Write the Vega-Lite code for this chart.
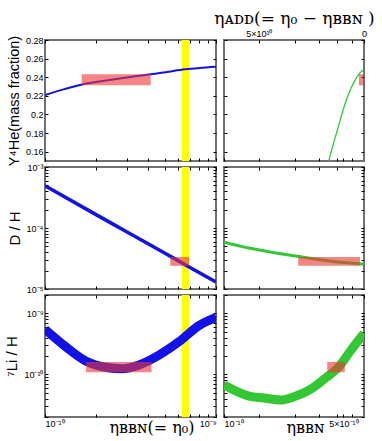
{
  "$schema": "https://vega.github.io/schema/vega-lite/v6.json",
  "padding": {"left": 3, "top": 8, "right": 0, "bottom": 0},
  "background": "white",
  "columns": 2,
  "spacing": {"row": 6, "column": 8},
  "bounds": "flush",
  "datasets": {
    "band": [{"lo": 6.3e-10, "hi": 6.95e-10}],
    "boxes": [
      {"panel": "he_l", "x0": 1.64e-10, "x1": 4.15e-10, "y0": 0.2313, "y1": 0.2431},
      {"panel": "he_r", "x0": 6.17e-10, "x1": 6.55e-10, "y0": 0.2313, "y1": 0.2431},
      {"panel": "dh_l", "x0": 5.4e-10, "x1": 6.95e-10, "y0": 2.4e-5, "y1": 3.35e-5},
      {"panel": "dh_r", "x0": 2.72e-10, "x1": 6.25e-10, "y0": 2.4e-5, "y1": 3.35e-5},
      {"panel": "li_l", "x0": 1.74e-10, "x1": 4.2e-10, "y0": 1.08e-10, "y1": 1.6e-10},
      {"panel": "li_r", "x0": 4.02e-10, "x1": 5.09e-10, "y0": 1.08e-10, "y1": 1.6e-10}
    ],
    "curves": [
      {"panel": "he_l", "eta": 1e-10, "v": 0.2209},
      {"panel": "he_l", "eta": 1.3e-10, "v": 0.2272},
      {"panel": "he_l", "eta": 1.65e-10, "v": 0.2322},
      {"panel": "he_l", "eta": 2.5e-10, "v": 0.2375},
      {"panel": "he_l", "eta": 3.3e-10, "v": 0.2407},
      {"panel": "he_l", "eta": 4.17e-10, "v": 0.2431},
      {"panel": "he_l", "eta": 5.3e-10, "v": 0.246},
      {"panel": "he_l", "eta": 6.59e-10, "v": 0.2485},
      {"panel": "he_l", "eta": 8e-10, "v": 0.25},
      {"panel": "he_l", "eta": 1e-9, "v": 0.2513},
      {"panel": "he_r", "eta": 3.98e-10, "v": 0.139},
      {"panel": "he_r", "eta": 4.12e-10, "v": 0.151},
      {"panel": "he_r", "eta": 4.59e-10, "v": 0.182},
      {"panel": "he_r", "eta": 5.18e-10, "v": 0.2144},
      {"panel": "he_r", "eta": 6.51e-10, "v": 0.2477},
      {"panel": "he_r", "eta": 6.6e-10, "v": 0.2485},
      {"panel": "dh_l", "eta": 1e-10, "v": 4.91e-4},
      {"panel": "dh_l", "eta": 2e-10, "v": 1.64e-4},
      {"panel": "dh_l", "eta": 3e-10, "v": 8.7e-5},
      {"panel": "dh_l", "eta": 5e-10, "v": 3.9e-5},
      {"panel": "dh_l", "eta": 7e-10, "v": 2.28e-5},
      {"panel": "dh_l", "eta": 1e-9, "v": 1.3e-5},
      {"panel": "dh_r", "eta": 1e-10, "v": 5.87e-5},
      {"panel": "dh_r", "eta": 1.4e-10, "v": 4.69e-5},
      {"panel": "dh_r", "eta": 2.75e-10, "v": 3.4e-5},
      {"panel": "dh_r", "eta": 4.12e-10, "v": 2.88e-5},
      {"panel": "dh_r", "eta": 6.6e-10, "v": 2.55e-5},
      {"panel": "li_l", "eta": 1e-10, "v": 5.48e-10},
      {"panel": "li_l", "eta": 1.32e-10, "v": 2.85e-10},
      {"panel": "li_l", "eta": 1.73e-10, "v": 1.66e-10},
      {"panel": "li_l", "eta": 2.26e-10, "v": 1.31e-10},
      {"panel": "li_l", "eta": 2.83e-10, "v": 1.24e-10},
      {"panel": "li_l", "eta": 3.55e-10, "v": 1.43e-10},
      {"panel": "li_l", "eta": 4.64e-10, "v": 2.07e-10},
      {"panel": "li_l", "eta": 6.08e-10, "v": 3.43e-10},
      {"panel": "li_l", "eta": 7.95e-10, "v": 6.3e-10},
      {"panel": "li_l", "eta": 1e-9, "v": 8.6e-10},
      {"panel": "li_r", "eta": 1e-10, "v": 6.7e-11},
      {"panel": "li_r", "eta": 1.4e-10, "v": 4.4e-11},
      {"panel": "li_r", "eta": 1.71e-10, "v": 4.1e-11},
      {"panel": "li_r", "eta": 2.15e-10, "v": 3.8e-11},
      {"panel": "li_r", "eta": 2.57e-10, "v": 4.3e-11},
      {"panel": "li_r", "eta": 3.15e-10, "v": 5.5e-11},
      {"panel": "li_r", "eta": 3.85e-10, "v": 8.3e-11},
      {"panel": "li_r", "eta": 4.71e-10, "v": 1.34e-10},
      {"panel": "li_r", "eta": 5.54e-10, "v": 2.5e-10},
      {"panel": "li_r", "eta": 6.6e-10, "v": 4.7e-10}
    ]
  },
  "concat": [
    {
      "width": 171, "height": 121,
      "layer": [
        {"data": {"name": "band"}, "mark": {"type": "rect", "color": "#ffff00"},
         "encoding": {"x": {"field": "lo", "type": "quantitative", "scale": {"type": "log", "domain": [1e-10, 1e-9], "nice": false}, "axis": null}, "x2": {"field": "hi"}}},
        {"data": {"name": "curves"}, "transform": [{"filter": "datum.panel == 'he_l'"}],
         "mark": {"type": "line", "color": "#1212e8", "strokeWidth": 2, "interpolate": "monotone", "clip": true},
         "encoding": {
           "x": {"field": "eta", "type": "quantitative", "scale": {"type": "log", "domain": [1e-10, 1e-9], "nice": false},
                 "axis": {"orient": "bottom", "values": [1e-10, 2e-10, 3e-10, 4e-10, 5e-10, 6e-10, 7e-10, 8e-10, 9e-10, 1e-9], "labels": false, "title": null}},
           "y": {"field": "v", "type": "quantitative", "scale": {"domain": [0.15, 0.28], "nice": false, "zero": false},
                 "axis": {"orient": "left", "values": [0.16, 0.18, 0.2, 0.22, 0.24, 0.26, 0.28], "format": "~g", "title": "Y⁴He(mass fraction)", "titleFontSize": 14.5, "titleFont": "Liberation Sans", "labelOverlap": false}}
         }},
        {"data": {"name": "boxes"}, "transform": [{"filter": "datum.panel == 'he_l'"}],
         "mark": {"type": "rect", "color": "#ee3333", "opacity": 0.6},
         "encoding": {
           "x": {"field": "x0", "type": "quantitative", "scale": {"type": "log", "domain": [1e-10, 1e-9], "nice": false},
                 "axis": {"orient": "top", "values": [1e-10, 2e-10, 3e-10, 4e-10, 5e-10, 6e-10, 7e-10, 8e-10, 9e-10, 1e-9], "labels": false, "title": null}},
           "x2": {"field": "x1"},
           "y": {"field": "y0", "type": "quantitative", "scale": {"domain": [0.15, 0.28], "nice": false, "zero": false},
                 "axis": {"orient": "right", "values": [0.16, 0.18, 0.2, 0.22, 0.24, 0.26, 0.28], "labels": false, "title": null}},
           "y2": {"field": "y1"}
         }}
      ],
      "resolve": {"axis": {"x": "independent", "y": "independent"}}
    },
    {
      "width": 140, "height": 121,
      "layer": [
        {"data": {"name": "curves"}, "transform": [{"filter": "datum.panel == 'he_r'"}],
         "mark": {"type": "line", "color": "#33c833", "strokeWidth": 1.3, "interpolate": "monotone", "clip": true},
         "encoding": {
           "x": {"field": "eta", "type": "quantitative", "scale": {"type": "log", "domain": [1e-10, 6.6e-10], "nice": false},
                 "axis": {"orient": "bottom", "values": [1e-10, 1.6e-10, 2.6e-10, 3.6e-10, 4.6e-10, 5e-10, 5.6e-10], "labels": false, "title": null}},
           "y": {"field": "v", "type": "quantitative", "scale": {"domain": [0.15, 0.28], "nice": false, "zero": false},
                 "axis": {"orient": "left", "values": [0.16, 0.18, 0.2, 0.22, 0.24, 0.26, 0.28], "labels": false, "title": null}}
         }},
        {"data": {"name": "boxes"}, "transform": [{"filter": "datum.panel == 'he_r'"}],
         "mark": {"type": "rect", "color": "#ee3333", "opacity": 0.6},
         "encoding": {
           "x": {"field": "x0", "type": "quantitative", "scale": {"type": "log", "domain": [1e-10, 6.6e-10], "nice": false},
                 "axis": {"orient": "top", "values": [1.6e-10, 2.6e-10, 3.6e-10, 4.6e-10, 5.6e-10, 6.6e-10], "labelFlush": false, "labelOverlap": false,
                          "labelExpr": "datum.value == 1.6e-10 ? '5×10¹⁰' : datum.value == 6.6e-10 ? '0' : ''",
                          "title": "ηᴀᴅᴅ(= η₀ − ηʙʙɴ )", "titleFontSize": 17, "titleFont": "DejaVu Serif", "titlePadding": 2}},
           "x2": {"field": "x1"},
           "y": {"field": "y0", "type": "quantitative", "scale": {"domain": [0.15, 0.28], "nice": false, "zero": false},
                 "axis": {"orient": "right", "values": [0.16, 0.18, 0.2, 0.22, 0.24, 0.26, 0.28], "labels": false, "title": null}},
           "y2": {"field": "y1"}
         }}
      ],
      "resolve": {"axis": {"x": "independent", "y": "independent"}}
    },
    {
      "width": 171, "height": 122,
      "layer": [
        {"data": {"name": "band"}, "mark": {"type": "rect", "color": "#ffff00"},
         "encoding": {"x": {"field": "lo", "type": "quantitative", "scale": {"type": "log", "domain": [1e-10, 1e-9], "nice": false}, "axis": null}, "x2": {"field": "hi"}}},
        {"data": {"name": "curves"}, "transform": [{"filter": "datum.panel == 'dh_l'"}],
         "mark": {"type": "line", "color": "#1212e8", "strokeWidth": 3.5, "interpolate": "monotone", "clip": true},
         "encoding": {
           "x": {"field": "eta", "type": "quantitative", "scale": {"type": "log", "domain": [1e-10, 1e-9], "nice": false},
                 "axis": {"orient": "bottom", "values": [1e-10, 2e-10, 3e-10, 4e-10, 5e-10, 6e-10, 7e-10, 8e-10, 9e-10, 1e-9], "labels": false, "title": null}},
           "y": {"field": "v", "type": "quantitative", "scale": {"type": "log", "domain": [1e-5, 1e-3], "nice": false},
                 "axis": {"orient": "left", "values": [1e-5, 2e-5, 3e-5, 4e-5, 5e-5, 6e-5, 7e-5, 8e-5, 9e-5, 1e-4, 2e-4, 3e-4, 4e-4, 5e-4, 6e-4, 7e-4, 8e-4, 9e-4, 1e-3],
                          "labelExpr": "datum.value == 1e-3 ? '10⁻³' : datum.value == 1e-4 ? '10⁻⁴' : datum.value == 1e-5 ? '10⁻⁵' : ''", "labelOverlap": false,
                          "title": "D / H", "titleFontSize": 15, "titleFont": "Liberation Sans"}}
         }},
        {"data": {"name": "boxes"}, "transform": [{"filter": "datum.panel == 'dh_l'"}],
         "mark": {"type": "rect", "color": "#ee3333", "opacity": 0.6},
         "encoding": {
           "x": {"field": "x0", "type": "quantitative", "scale": {"type": "log", "domain": [1e-10, 1e-9], "nice": false},
                 "axis": {"orient": "top", "values": [1e-10, 2e-10, 3e-10, 4e-10, 5e-10, 6e-10, 7e-10, 8e-10, 9e-10, 1e-9], "labels": false, "title": null}},
           "x2": {"field": "x1"},
           "y": {"field": "y0", "type": "quantitative", "scale": {"type": "log", "domain": [1e-5, 1e-3], "nice": false},
                 "axis": {"orient": "right", "values": [1e-5, 2e-5, 3e-5, 4e-5, 5e-5, 6e-5, 7e-5, 8e-5, 9e-5, 1e-4, 2e-4, 3e-4, 4e-4, 5e-4, 6e-4, 7e-4, 8e-4, 9e-4, 1e-3], "labels": false, "title": null}},
           "y2": {"field": "y1"}
         }}
      ],
      "resolve": {"axis": {"x": "independent", "y": "independent"}}
    },
    {
      "width": 140, "height": 122,
      "layer": [
        {"data": {"name": "curves"}, "transform": [{"filter": "datum.panel == 'dh_r'"}],
         "mark": {"type": "line", "color": "#33c833", "strokeWidth": 3, "interpolate": "monotone", "clip": true},
         "encoding": {
           "x": {"field": "eta", "type": "quantitative", "scale": {"type": "log", "domain": [1e-10, 6.6e-10], "nice": false},
                 "axis": {"orient": "bottom", "values": [1e-10, 1.6e-10, 2.6e-10, 3.6e-10, 4.6e-10, 5e-10, 5.6e-10], "labels": false, "title": null}},
           "y": {"field": "v", "type": "quantitative", "scale": {"type": "log", "domain": [1e-5, 1e-3], "nice": false},
                 "axis": {"orient": "left", "values": [1e-5, 2e-5, 3e-5, 4e-5, 5e-5, 6e-5, 7e-5, 8e-5, 9e-5, 1e-4, 2e-4, 3e-4, 4e-4, 5e-4, 6e-4, 7e-4, 8e-4, 9e-4, 1e-3], "labels": false, "title": null}}
         }},
        {"data": {"name": "boxes"}, "transform": [{"filter": "datum.panel == 'dh_r'"}],
         "mark": {"type": "rect", "color": "#ee3333", "opacity": 0.6},
         "encoding": {
           "x": {"field": "x0", "type": "quantitative", "scale": {"type": "log", "domain": [1e-10, 6.6e-10], "nice": false},
                 "axis": {"orient": "top", "values": [1.6e-10, 2.6e-10, 3.6e-10, 4.6e-10, 5.6e-10, 6.6e-10], "labels": false, "title": null}},
           "x2": {"field": "x1"},
           "y": {"field": "y0", "type": "quantitative", "scale": {"type": "log", "domain": [1e-5, 1e-3], "nice": false},
                 "axis": {"orient": "right", "values": [1e-5, 2e-5, 3e-5, 4e-5, 5e-5, 6e-5, 7e-5, 8e-5, 9e-5, 1e-4, 2e-4, 3e-4, 4e-4, 5e-4, 6e-4, 7e-4, 8e-4, 9e-4, 1e-3], "labels": false, "title": null}},
           "y2": {"field": "y1"}
         }}
      ],
      "resolve": {"axis": {"x": "independent", "y": "independent"}}
    },
    {
      "width": 171, "height": 122,
      "layer": [
        {"data": {"name": "band"}, "mark": {"type": "rect", "color": "#ffff00"},
         "encoding": {"x": {"field": "lo", "type": "quantitative", "scale": {"type": "log", "domain": [1e-10, 1e-9], "nice": false}, "axis": null}, "x2": {"field": "hi"}}},
        {"data": {"name": "curves"}, "transform": [{"filter": "datum.panel == 'li_l'"}],
         "mark": {"type": "line", "color": "#1212e8", "strokeWidth": 9, "interpolate": "monotone", "clip": true},
         "encoding": {
           "x": {"field": "eta", "type": "quantitative", "scale": {"type": "log", "domain": [1e-10, 1e-9], "nice": false},
                 "axis": {"orient": "bottom", "values": [1e-10, 2e-10, 3e-10, 4e-10, 5e-10, 6e-10, 7e-10, 8e-10, 9e-10, 1e-9],
                          "labelExpr": "datum.value == 1e-10 ? '10⁻¹⁰' : datum.value == 1e-9 ? '10⁻⁹' : ''", "labelOverlap": false,
                          "title": "ηʙʙɴ(= η₀)", "titleFontSize": 16, "titleFont": "DejaVu Serif", "titlePadding": -9, "titleX": 64, "titleAlign": "left"}},
           "y": {"field": "v", "type": "quantitative", "scale": {"type": "log", "domain": [2e-11, 2e-9], "nice": false},
                 "axis": {"orient": "left", "values": [2e-11, 3e-11, 4e-11, 5e-11, 6e-11, 7e-11, 8e-11, 9e-11, 1e-10, 2e-10, 3e-10, 4e-10, 5e-10, 6e-10, 7e-10, 8e-10, 9e-10, 1e-9, 2e-9],
                          "labelExpr": "datum.value == 1e-9 ? '10⁻⁹' : datum.value == 1e-10 ? '10⁻¹⁰' : ''", "labelOverlap": false,
                          "title": "⁷Li / H", "titleFontSize": 15, "titleFont": "Liberation Sans"}}
         }},
        {"data": {"name": "boxes"}, "transform": [{"filter": "datum.panel == 'li_l'"}],
         "mark": {"type": "rect", "color": "#ee3333", "opacity": 0.6},
         "encoding": {
           "x": {"field": "x0", "type": "quantitative", "scale": {"type": "log", "domain": [1e-10, 1e-9], "nice": false},
                 "axis": {"orient": "top", "values": [1e-10, 2e-10, 3e-10, 4e-10, 5e-10, 6e-10, 7e-10, 8e-10, 9e-10, 1e-9], "labels": false, "title": null}},
           "x2": {"field": "x1"},
           "y": {"field": "y0", "type": "quantitative", "scale": {"type": "log", "domain": [2e-11, 2e-9], "nice": false},
                 "axis": {"orient": "right", "values": [2e-11, 3e-11, 4e-11, 5e-11, 6e-11, 7e-11, 8e-11, 9e-11, 1e-10, 2e-10, 3e-10, 4e-10, 5e-10, 6e-10, 7e-10, 8e-10, 9e-10, 1e-9, 2e-9], "labels": false, "title": null}},
           "y2": {"field": "y1"}
         }}
      ],
      "resolve": {"axis": {"x": "independent", "y": "independent"}}
    },
    {
      "width": 140, "height": 122,
      "layer": [
        {"data": {"name": "curves"}, "transform": [{"filter": "datum.panel == 'li_r'"}],
         "mark": {"type": "line", "color": "#33c833", "strokeWidth": 9, "interpolate": "monotone", "clip": true},
         "encoding": {
           "x": {"field": "eta", "type": "quantitative", "scale": {"type": "log", "domain": [1e-10, 6.6e-10], "nice": false},
                 "axis": {"orient": "bottom", "values": [1e-10, 1.6e-10, 2.6e-10, 3.6e-10, 4.6e-10, 5e-10, 5.6e-10],
                          "labelExpr": "datum.value == 1e-10 ? '10⁻¹⁰' : datum.value == 5e-10 ? '5×10⁻¹⁰' : ''", "labelOverlap": false,
                          "title": "ηʙʙɴ", "titleFontSize": 16, "titleFont": "DejaVu Serif", "titlePadding": -9, "titleX": 62, "titleAlign": "left"}},
           "y": {"field": "v", "type": "quantitative", "scale": {"type": "log", "domain": [2e-11, 2e-9], "nice": false},
                 "axis": {"orient": "left", "values": [2e-11, 3e-11, 4e-11, 5e-11, 6e-11, 7e-11, 8e-11, 9e-11, 1e-10, 2e-10, 3e-10, 4e-10, 5e-10, 6e-10, 7e-10, 8e-10, 9e-10, 1e-9, 2e-9], "labels": false, "title": null}}
         }},
        {"data": {"name": "boxes"}, "transform": [{"filter": "datum.panel == 'li_r'"}],
         "mark": {"type": "rect", "color": "#ee3333", "opacity": 0.6},
         "encoding": {
           "x": {"field": "x0", "type": "quantitative", "scale": {"type": "log", "domain": [1e-10, 6.6e-10], "nice": false},
                 "axis": {"orient": "top", "values": [1.6e-10, 2.6e-10, 3.6e-10, 4.6e-10, 5.6e-10, 6.6e-10], "labels": false, "title": null}},
           "x2": {"field": "x1"},
           "y": {"field": "y0", "type": "quantitative", "scale": {"type": "log", "domain": [2e-11, 2e-9], "nice": false},
                 "axis": {"orient": "right", "values": [2e-11, 3e-11, 4e-11, 5e-11, 6e-11, 7e-11, 8e-11, 9e-11, 1e-10, 2e-10, 3e-10, 4e-10, 5e-10, 6e-10, 7e-10, 8e-10, 9e-10, 1e-9, 2e-9], "labels": false, "title": null}},
           "y2": {"field": "y1"}
         }}
      ],
      "resolve": {"axis": {"x": "independent", "y": "independent"}}
    }
  ],
  "config": {
    "view": {"stroke": "#707070", "strokeWidth": 2},
    "axis": {"domain": false, "grid": false, "tickSize": -3, "tickColor": "#000000", "tickWidth": 1,
             "labelFont": "Liberation Sans", "labelFontSize": 9, "labelColor": "#000000", "labelPadding": 5,
             "titleColor": "#000000", "titleFontWeight": "normal", "titlePadding": 4}
  }
}
